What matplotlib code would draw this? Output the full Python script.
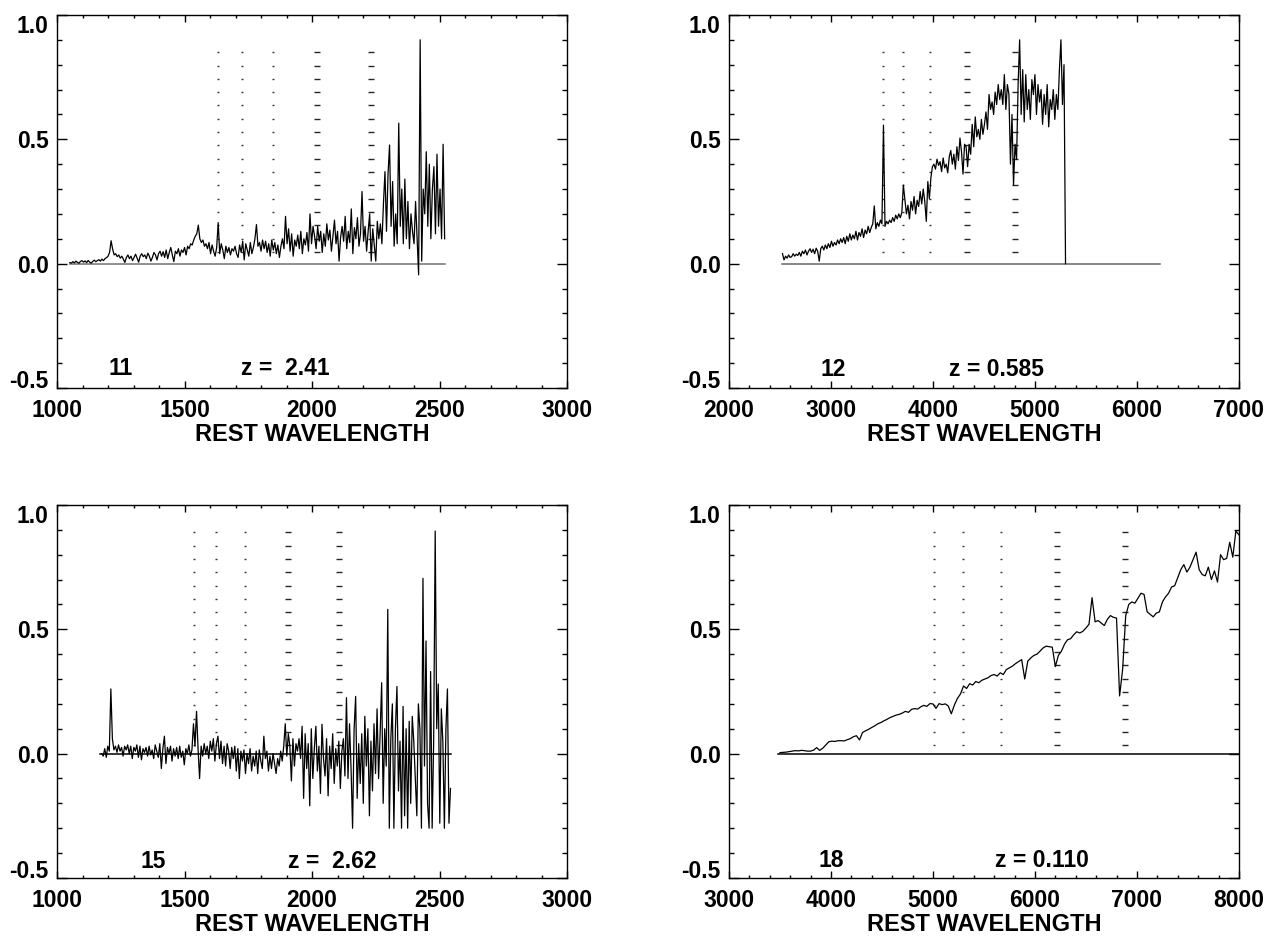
import numpy as np
import matplotlib.pyplot as plt
from matplotlib.ticker import MultipleLocator

plt.rcParams['font.family'] = ['Liberation Sans', 'DejaVu Sans']
plt.rcParams['font.weight'] = 'bold'

# ---- object 11, z = 2.41 (rest wavelength grid 1050..2520, step 6)
w11 = (1050, 2520)
f11 = [0.004, 0.002, 0.008, 0.003, 0.010, 0.005, 0.002, 0.009, 0.012, 0.006,
       0.011, 0.004, 0.013, 0.006, 0.002, 0.009, 0.014, 0.008, 0.012, 0.016,
       0.010, 0.018, 0.012, 0.020, 0.024, 0.030, 0.045, 0.092, 0.058, 0.035,
       0.040, 0.028, 0.035, 0.022, 0.030, 0.018, 0.005, 0.025, 0.035, 0.020,
       0.030, 0.012, 0.025, 0.038, 0.022, 0.006, 0.030, 0.040, 0.028, 0.035,
       0.020, 0.042, 0.030, 0.010, 0.025, 0.045, 0.035, 0.015, 0.040, 0.050,
       0.030, 0.048, 0.025, 0.055, 0.020, 0.045, 0.065, 0.035, 0.008, 0.050,
       0.040, 0.060, 0.030, 0.055, 0.045, 0.065, 0.035, 0.070, 0.060, 0.080,
       0.075, 0.095, 0.110, 0.120, 0.155, 0.100, 0.085, 0.095, 0.070, 0.080,
       0.060, 0.085, 0.040, 0.075, 0.050, 0.030, 0.065, 0.165, 0.040, 0.080,
       0.055, 0.020, 0.070, 0.045, 0.065, 0.035, 0.060, 0.050, 0.070, 0.040,
       0.025, 0.075, 0.045, 0.090, 0.015, 0.080, 0.055, 0.030, 0.085, 0.040,
       0.065, 0.100, 0.157, 0.070, 0.085, 0.050, 0.095, 0.060, 0.090, 0.045,
       0.080, 0.030, 0.095, 0.055, 0.085, 0.040, 0.075, 0.025, 0.070, 0.100,
       0.060, 0.190, 0.080, 0.140, 0.050, 0.120, 0.030, 0.095, 0.070, 0.115,
       0.060, 0.130, 0.040, 0.100, 0.075, 0.125, 0.050, 0.200, 0.080, 0.150,
       0.110, 0.060, 0.150, 0.090, 0.130, 0.045, 0.120, 0.070, 0.160, 0.095,
       0.135, 0.050, 0.110, 0.175, 0.080, 0.130, 0.010, 0.105, 0.150, 0.090,
       0.190, 0.060, 0.130, 0.085, 0.220, 0.040, 0.145, 0.100, 0.185, 0.070,
       0.120, 0.290, 0.090, 0.150, 0.050, 0.130, 0.200, 0.010, 0.140, 0.075,
       0.010, 0.170, 0.100, 0.160, 0.080, 0.240, 0.370, 0.130, 0.360, 0.477,
       0.150, 0.330, 0.070, 0.200, 0.080, 0.565, 0.150, 0.300, 0.080, 0.340,
       0.100, 0.250, 0.060, 0.200, 0.130, 0.080, 0.250, 0.100, -0.045, 0.900,
       0.010, 0.300, 0.200, 0.450, 0.150, 0.400, 0.100, 0.300, 0.390, 0.120,
       0.440, 0.150, 0.300, 0.100, 0.480, 0.100]
sky11 = [1632, 1724, 1845]
tel11 = [2021, 2233]

# ---- object 12, z = 0.585 (grid 2525..5300, step 15)
w12 = (2525, 5300)
f12 = [0.040, 0.015, 0.030, 0.022, 0.035, 0.025, 0.028, 0.040, 0.030, 0.038,
       0.033, 0.045, 0.030, 0.050, 0.040, 0.055, 0.035, 0.050, 0.060, 0.045,
       0.058, 0.040, 0.062, 0.050, 0.010, 0.060, 0.070, 0.055, 0.075, 0.060,
       0.080, 0.065, 0.090, 0.070, 0.085, 0.075, 0.095, 0.080, 0.100, 0.085,
       0.105, 0.080, 0.110, 0.090, 0.120, 0.095, 0.115, 0.100, 0.130, 0.095,
       0.125, 0.110, 0.140, 0.105, 0.135, 0.120, 0.150, 0.125, 0.145, 0.160,
       0.232, 0.140, 0.165, 0.150, 0.175, 0.160, 0.557, 0.150, 0.170, 0.160,
       0.175, 0.165, 0.185, 0.170, 0.195, 0.180, 0.200, 0.185, 0.205, 0.316,
       0.260, 0.200, 0.235, 0.180, 0.250, 0.215, 0.270, 0.200, 0.255, 0.230,
       0.290, 0.240, 0.300, 0.250, 0.170, 0.330, 0.260, 0.345, 0.390, 0.400,
       0.380, 0.420, 0.395, 0.410, 0.370, 0.425, 0.385, 0.400, 0.365, 0.430,
       0.455, 0.400, 0.440, 0.380, 0.470, 0.415, 0.505, 0.450, 0.360, 0.480,
       0.470, 0.390, 0.480, 0.440, 0.560, 0.470, 0.590, 0.510, 0.540, 0.500,
       0.580, 0.520, 0.560, 0.610, 0.540, 0.680, 0.620, 0.650, 0.600, 0.690,
       0.640, 0.720, 0.660, 0.700, 0.640, 0.760, 0.620, 0.720, 0.680, 0.400,
       0.600, 0.316, 0.480, 0.420, 0.720, 0.900, 0.600, 0.780, 0.570, 0.760,
       0.620, 0.700, 0.580, 0.740, 0.680, 0.760, 0.600, 0.720, 0.650, 0.700,
       0.560, 0.680, 0.600, 0.720, 0.550, 0.660, 0.620, 0.700, 0.580, 0.680,
       0.620, 0.780, 0.900, 0.640, 0.800, 0.000]
sky12 = [3510, 3706, 3967]
tel12 = [4338, 4806]

# ---- object 15, z = 2.62 (grid 1175..2543, step 6)
w15 = (1175, 2543)
f15 = [0.000, -0.010, 0.020, -0.015, 0.030, 0.010, 0.260, 0.060, 0.015, 0.030,
       0.005, 0.035, 0.010, 0.025, -0.010, 0.030, 0.015, 0.035, 0.000, 0.030,
       -0.020, 0.025, 0.010, 0.035, -0.015, 0.030, -0.025, 0.020, 0.005, 0.025,
       -0.010, 0.030, -0.005, 0.015, -0.020, 0.035, 0.010, -0.015, 0.040, -0.060,
       0.020, 0.070, -0.040, 0.025, 0.000, 0.030, -0.030, 0.020, -0.010, 0.025,
       -0.020, 0.030, -0.015, 0.010, -0.045, 0.020, 0.000, 0.035, -0.010, 0.015,
       0.120, 0.030, 0.170, 0.020, -0.100, 0.030, -0.010, 0.040, 0.000, 0.030,
       -0.020, 0.050, 0.010, 0.060, -0.030, 0.040, 0.070, -0.020, 0.050, -0.040,
       0.030, -0.050, 0.040, 0.010, -0.060, 0.025, -0.020, 0.030, -0.070, 0.020,
       -0.100, 0.010, -0.030, 0.015, -0.080, 0.000, -0.040, 0.020, -0.070, -0.010,
       -0.050, 0.010, -0.080, 0.015, -0.030, -0.060, 0.070, -0.020, 0.010, -0.070,
       -0.010, -0.060, 0.000, -0.040, -0.080, -0.020, -0.050, 0.010, -0.030, 0.030,
       0.120, -0.010, 0.080, 0.030, -0.110, 0.060, -0.050, 0.040, 0.010, 0.060,
       -0.020, 0.110, -0.180, 0.080, -0.060, 0.040, -0.210, 0.100, -0.100, 0.020,
       0.110, -0.070, 0.030, -0.160, 0.118, -0.020, -0.090, 0.060, -0.170, 0.030,
       -0.060, 0.080, -0.120, 0.020, -0.050, 0.050, -0.140, 0.010, 0.060, -0.090,
       0.225, -0.100, 0.120, -0.060, -0.300, 0.100, 0.230, -0.180, 0.040, -0.120,
       0.080, -0.200, 0.150, -0.050, 0.100, -0.250, 0.050, -0.150, 0.120, -0.080,
       0.180, -0.100, 0.080, 0.285, -0.200, 0.100, -0.050, 0.580, -0.300, 0.060,
       0.200, -0.300, 0.100, 0.270, -0.150, 0.050, -0.300, 0.190, -0.250, 0.100,
       -0.300, 0.130, -0.200, 0.150, 0.050, -0.100, -0.250, 0.200, 0.100, -0.300,
       0.705, -0.050, 0.453, -0.200, -0.300, 0.330, -0.300, 0.050, 0.895, 0.100,
       0.280, -0.280, 0.180, 0.050, -0.300, 0.100, 0.260, -0.280, -0.140]
sky15 = [1537, 1624, 1737]
tel15 = [1905, 2107]

# ---- object 18, z = 0.110 (grid 3500..8000, step 30)
w18 = (3500, 8000)
f18 = [0.004, 0.005, 0.006, 0.008, 0.010, 0.012, 0.011, 0.013, 0.012, 0.010,
       0.010, 0.014, 0.024, 0.013, 0.022, 0.035, 0.048, 0.050, 0.049, 0.052,
       0.052, 0.051, 0.056, 0.060, 0.068, 0.072, 0.055, 0.085, 0.092, 0.098,
       0.105, 0.112, 0.120, 0.125, 0.132, 0.138, 0.145, 0.150, 0.155, 0.158,
       0.163, 0.170, 0.166, 0.178, 0.181, 0.179, 0.188, 0.194, 0.190, 0.201,
       0.200, 0.182, 0.201, 0.197, 0.200, 0.192, 0.160, 0.195, 0.222, 0.240,
       0.272, 0.262, 0.281, 0.276, 0.290, 0.285, 0.295, 0.300, 0.305, 0.314,
       0.318, 0.312, 0.325, 0.318, 0.338, 0.345, 0.352, 0.362, 0.370, 0.378,
       0.300, 0.372, 0.385, 0.395, 0.400, 0.412, 0.425, 0.432, 0.430, 0.428,
       0.350, 0.395, 0.412, 0.440, 0.458, 0.462, 0.478, 0.490, 0.485, 0.492,
       0.505, 0.520, 0.627, 0.530, 0.535, 0.525, 0.515, 0.540, 0.555, 0.548,
       0.545, 0.232, 0.340, 0.555, 0.600, 0.610, 0.605, 0.625, 0.645, 0.640,
       0.570, 0.560, 0.550, 0.565, 0.570, 0.610, 0.630, 0.645, 0.670, 0.675,
       0.707, 0.740, 0.760, 0.730, 0.750, 0.780, 0.810, 0.740, 0.720, 0.715,
       0.750, 0.700, 0.735, 0.690, 0.800, 0.780, 0.785, 0.850, 0.790, 0.895,
       0.880]
sky18 = [5013, 5297, 5667]
tel18 = [6219, 6882]

labels = ['11', '12', '15', '18']
ztext = ['z =  2.41', 'z = 0.585', 'z =  2.62', 'z = 0.110']


def panel(ax, wr, flux, xlim, major, minor, sky, tel, mtop, nmark, zero,
          zcol, lab, zt, lab_x, zt_x, txt_y):
    wave = np.linspace(wr[0], wr[1], len(flux))
    ys = mtop - 0.0535 * np.arange(nmark)
    for s in sky:
        ax.plot(np.full(nmark, s), ys, ls='none', marker='_', ms=1.8,
                mew=1.0, color='0.2')
    for t in tel:
        ax.plot(np.full(nmark, t), ys, ls='none', marker='_', ms=4.6,
                mew=1.0, color='0.15')
    ax.plot(zero, [0, 0], color=zcol, lw=1.1)
    ax.plot(wave, flux, color='black', lw=0.9)
    ax.text(lab_x, txt_y, lab, fontsize=16.5, fontweight='bold')
    ax.text(zt_x, txt_y, zt, fontsize=16.5, fontweight='bold')

    ax.set_xlim(*xlim)
    ax.set_ylim(-0.5, 1.0)
    ax.set_xticks(np.arange(xlim[0], xlim[1] + 1, major))
    ax.set_yticks([-0.5, 0.0, 0.5, 1.0])
    ax.set_yticklabels(['-0.5', '0.0', '0.5', '1.0'])
    ax.xaxis.set_minor_locator(MultipleLocator(minor))
    ax.yaxis.set_minor_locator(MultipleLocator(0.1))
    ax.tick_params(axis='both', which='both', direction='in', top=True,
                   right=True, width=1.0, labelsize=16.5)
    ax.tick_params(axis='x', which='major', length=5, pad=8)
    ax.tick_params(axis='x', which='minor', length=2.5)
    ax.tick_params(axis='y', which='major', length=7.2, pad=6)
    ax.tick_params(axis='y', which='minor', length=3.6)
    for sp in ax.spines.values():
        sp.set_linewidth(1.0)
    ax.set_xlabel('REST WAVELENGTH', fontsize=17, fontweight='bold',
                  labelpad=1)
    yt = ax.yaxis.get_major_ticks()
    yt[0].label1.set_verticalalignment('baseline')
    yt[-1].label1.set_verticalalignment('top')


fig = plt.figure(figsize=(12.82, 9.41), dpi=100)
ax1 = fig.add_axes([0.0445, 0.5877, 0.3978, 0.3964])
ax2 = fig.add_axes([0.5686, 0.5877, 0.3978, 0.3964])
ax3 = fig.add_axes([0.0445, 0.0670, 0.3978, 0.3964])
ax4 = fig.add_axes([0.5686, 0.0670, 0.3978, 0.3964])

panel(ax1, w11, f11, (1000, 3000), 500, 100, sky11, tel11, 0.85, 16,
      [1050, 2520], '0.45', labels[0], ztext[0], 1200, 1722, -0.448)
panel(ax2, w12, f12, (2000, 7000), 1000, 200, sky12, tel12, 0.85, 16,
      [2525, 6225], '0.4', labels[1], ztext[1], 2902, 4157, -0.453)
panel(ax3, w15, f15, (1000, 3000), 500, 100, sky15, tel15, 0.89, 17,
      [1170, 2545], 'black', labels[2], ztext[2], 1329, 1906, -0.46)
panel(ax4, w18, f18, (3000, 8000), 1000, 200, sky18, tel18, 0.89, 17,
      [3480, 8000], 'black', labels[3], ztext[3], 3878, 5608, -0.457)

fig.savefig('out.png', dpi=100)
